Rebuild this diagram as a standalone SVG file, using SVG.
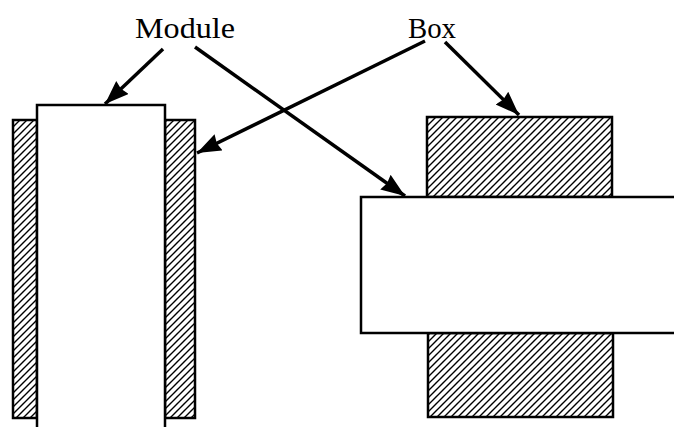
<svg xmlns="http://www.w3.org/2000/svg" width="674" height="427" viewBox="0 0 674 427">
<defs>
<pattern id="hatch" patternUnits="userSpaceOnUse" width="7" height="7">
<path d="M-1,1 L1,-1 M0,7 L7,0 M6,8 L8,6" stroke="#000" stroke-width="1.4"/>
</pattern>
<marker id="ah" markerUnits="userSpaceOnUse" markerWidth="30" markerHeight="24" refX="24" refY="9" orient="auto">
<path d="M0,0 L24,9 L0,18 L2,9 Z" fill="#000"/>
</marker>
</defs>
<style>
.box{fill:url(#hatch);stroke:#000;stroke-width:2.5}
.mod{fill:#fff;stroke:#000;stroke-width:2.5}
.lbl{font-family:"Liberation Serif","Times New Roman",serif;font-size:29px;fill:#000}
.conn line{stroke:#000;stroke-width:3.5;marker-end:url(#ah)}
</style>
<g id="left-box-l"><rect class="box" x="13" y="120" width="24" height="298"/></g>
<g id="left-box-r"><rect class="box" x="165" y="120" width="30" height="298"/></g>
<g id="left-module"><path class="mod" d="M37,427 V105 H165 V427"/></g>
<g id="right-box-top"><rect class="box" x="427" y="117" width="185" height="80"/></g>
<g id="right-box-bottom"><rect class="box" x="428" y="333" width="185" height="84"/></g>
<g id="right-module"><rect class="mod" x="361" y="197" width="330" height="136"/></g>
<g id="label-module"><text class="lbl" x="135" y="38" textLength="100" lengthAdjust="spacingAndGlyphs">Module</text></g>
<g id="label-box"><text class="lbl" x="408" y="38" textLength="48" lengthAdjust="spacingAndGlyphs">Box</text></g>
<g class="conn">
<line x1="163" y1="49" x2="105" y2="104"/>
<line x1="195" y1="47" x2="405" y2="196"/>
<line x1="425" y1="41" x2="197" y2="153"/>
<line x1="445" y1="42" x2="519" y2="115"/>
</g>
</svg>
